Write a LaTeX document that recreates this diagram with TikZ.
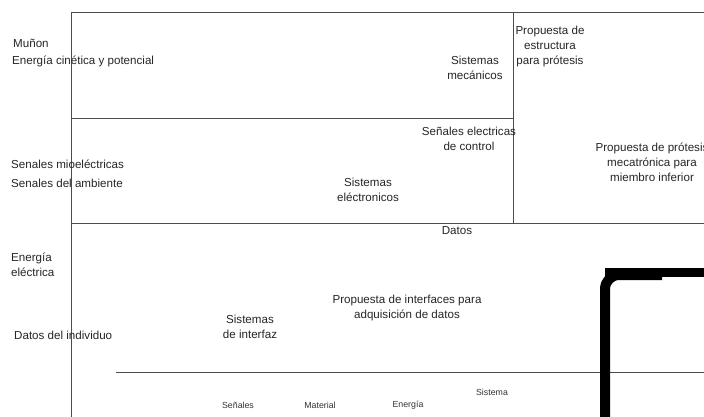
\documentclass[tikz,border=0pt]{standalone}
\usepackage{fontspec}
\setmainfont{Liberation Sans}
\begin{document}
\begin{tikzpicture}[x=1pt,y=-1pt,
  frame/.style={draw=black!70,line width=0.9pt},
  lbl/.style={inner sep=0pt,font=\fontsize{11.6}{15}\selectfont,text=black!85},
  lbll/.style={lbl,anchor=west},
  lblc/.style={lbl,align=center},
  tiny/.style={inner sep=0pt,font=\fontsize{8.8}{10}\selectfont,text=black!80},
  thick/.style={line width=10pt,black}]
\useasboundingbox (0,0) rectangle (704,417);
\fill[white] (0,0) rectangle (704,417);
% frame coordinates
\coordinate (tl) at (71,12);
\coordinate (tr) at (704,12);
\coordinate (bl) at (71,417);
\coordinate (m1l) at (71,118);
\coordinate (m1r) at (513,118);
\coordinate (vt) at (513,12);
\coordinate (vb) at (513,223);
\coordinate (m2l) at (71,223);
\coordinate (m2r) at (704,223);
\coordinate (m3l) at (116,372);
\coordinate (m3r) at (704,372);
\draw[frame] (tr) -- (tl) -- (bl);
\draw[frame] (m1l) -- (m1r);
\draw[frame] (vt) -- (vb);
\draw[frame] (m2l) -- (m2r);
\draw[frame] (m3l) -- (m3r);
% thick black shape
\coordinate (ka) at (605,417);
\coordinate (kb) at (605,275);
\coordinate (kc) at (662,275);
\draw[thick,rounded corners=14pt] (ka) -- (kb) -- (kc);
\coordinate (ba) at (605,268);
\coordinate (bb) at (704,277);
\fill[black] (ba) rectangle (bb);
% labels
\node[lbll] (mun) at (13,43) {Muñon};
\node[lbll] (ecp) at (12,61) {Energía cinética y potencial};
\node[lbll] (smi) at (11,164) {Senales mioeléctricas};
\node[lbll] (sam) at (11,183) {Senales del ambiente};
\node[lbll,align=left] (eel) at (11,265) {Energía\\eléctrica};
\node[lbll] (dind) at (14,335) {Datos del individuo};
\node[lblc] (smec) at (475,68) {Sistemas\\mecánicos};
\node[lblc] (pest) at (550,47) {Propuesta de\\estructura\\para prótesis};
\node[lblc] (sec) at (469,139) {Señales electricas\\de control};
\node[lblc] (pmec) at (652,162) {Propuesta de prótesis\\mecatrónica para\\miembro inferior};
\node[lblc] (sele) at (368,190) {Sistemas\\eléctronicos};
\node[lblc] (datos) at (457,231) {Datos};
\node[lblc] (pint) at (407,308) {Propuesta de interfaces para\\adquisición de datos};
\node[lblc] (sint) at (250,327) {Sistemas\\de interfaz};
\node[tiny] (bs) at (238,405) {Señales};
\node[tiny] (bm) at (320,405) {Material};
\node[tiny] (be) at (408,405) {Energía};
\node[tiny] (bsi) at (492,392) {Sistema};
\end{tikzpicture}
\end{document}
